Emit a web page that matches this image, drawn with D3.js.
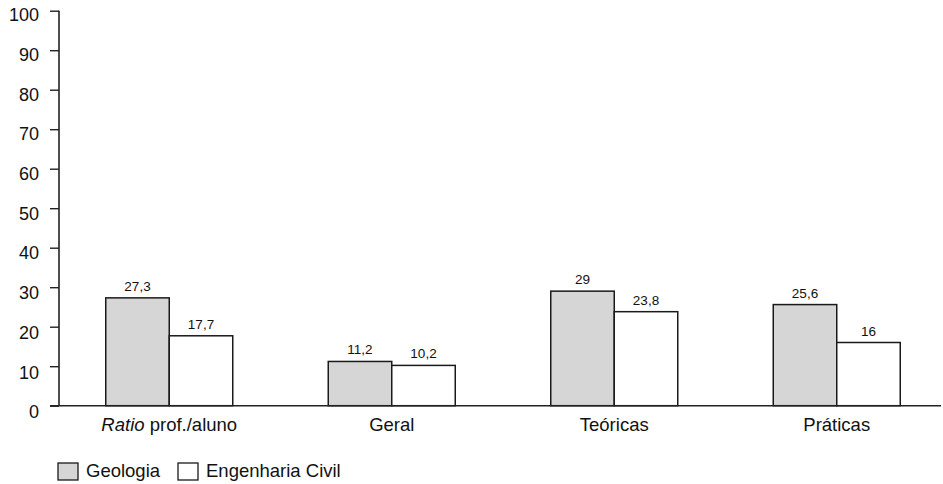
<!DOCTYPE html>
<html><head><meta charset="utf-8">
<script src="https://cdn.jsdelivr.net/npm/d3@7"></script>
<style>body{margin:0;background:#fff;} text{font-family:"Liberation Sans",Arial,sans-serif;fill:#111;}</style>
</head><body>
<svg id="c" width="943" height="484"></svg>
<script>
const categories = ["Ratio prof./aluno","Geral","Teóricas","Práticas"];
const seriesNames = ["Geologia","Engenharia Civil"];
const geologia = [27.3, 11.2, 29, 25.6];
const engCivil = [17.7, 10.2, 23.8, 16];
const yTicks = [0,10,20,30,40,50,60,70,80,90,100];
const colors = ["#d6d6d6","#ffffff"];

const svg = d3.select("#c");
const y = d3.scaleLinear().domain([0,100]).range([405.7,10.7]);
// tick labels in the scan sit slightly below their ticks
const yLab = d3.scaleLinear().domain([0,100]).range([412,15]);
const x = d3.scaleBand().domain(categories).range([58,948]).paddingInner(0).paddingOuter(0);
const bw = 63.5;
const x1 = d3.scaleBand().domain(seriesNames).range([0,bw*2]);

// y axis
const yAxis = d3.axisLeft(y).tickValues(yTicks).tickSize(9).tickPadding(11).tickFormat(d3.format("d"));
const gy = svg.append("g").attr("transform","translate(59,0)").call(yAxis);
gy.select(".domain").attr("stroke","#222").attr("stroke-width",1.6).attr("d","M0,10.7V405.7");
gy.selectAll(".tick line").attr("stroke","#222").attr("stroke-width",1.4);
gy.selectAll(".tick text").style("font-size","18px").attr("fill","#111")
  .attr("y", d => yLab(d) - y(d));

// bars
const data = categories.map((c,i)=>({c, vals:[geologia[i], engCivil[i]]}));
const g = svg.append("g");
data.forEach(d=>{
  const cx = x(d.c) + x.bandwidth()/2 - bw;
  d.vals.forEach((v,j)=>{
    const bx = cx + x1(seriesNames[j]);
    g.append("rect").attr("x",bx).attr("y",y(v)).attr("width",x1.bandwidth()).attr("height",y(0)-y(v))
      .attr("fill",colors[j]).attr("stroke","#1a1a1a").attr("stroke-width",1.5);
    g.append("text").attr("x",bx+x1.bandwidth()/2).attr("y",y(v)-7).attr("text-anchor","middle")
      .style("font-size","13.5px").text(String(v).replace(".",","));
  });
});

// baseline
svg.append("line").attr("x1",50).attr("x2",941).attr("y1",y(0)).attr("y2",y(0)).attr("stroke","#222").attr("stroke-width",1.6);

// category labels
data.forEach(d=>{
  const t = svg.append("text").attr("x",x(d.c)+x.bandwidth()/2).attr("y",431).attr("text-anchor","middle").style("font-size","18.5px");
  if(d.c.startsWith("Ratio")){
    t.append("tspan").style("font-style","italic").text("Ratio");
    t.append("tspan").text(" prof./aluno");
  } else t.text(d.c);
});

// legend
const legX = [58,178];
seriesNames.forEach((s,i)=>{
  svg.append("rect").attr("x",legX[i]).attr("y",463).attr("width",20).attr("height",17)
    .attr("fill",colors[i]).attr("stroke","#1a1a1a").attr("stroke-width",1.3);
  svg.append("text").attr("x",legX[i]+28).attr("y",477).style("font-size","18.5px").text(s);
});
</script>
</body></html>
